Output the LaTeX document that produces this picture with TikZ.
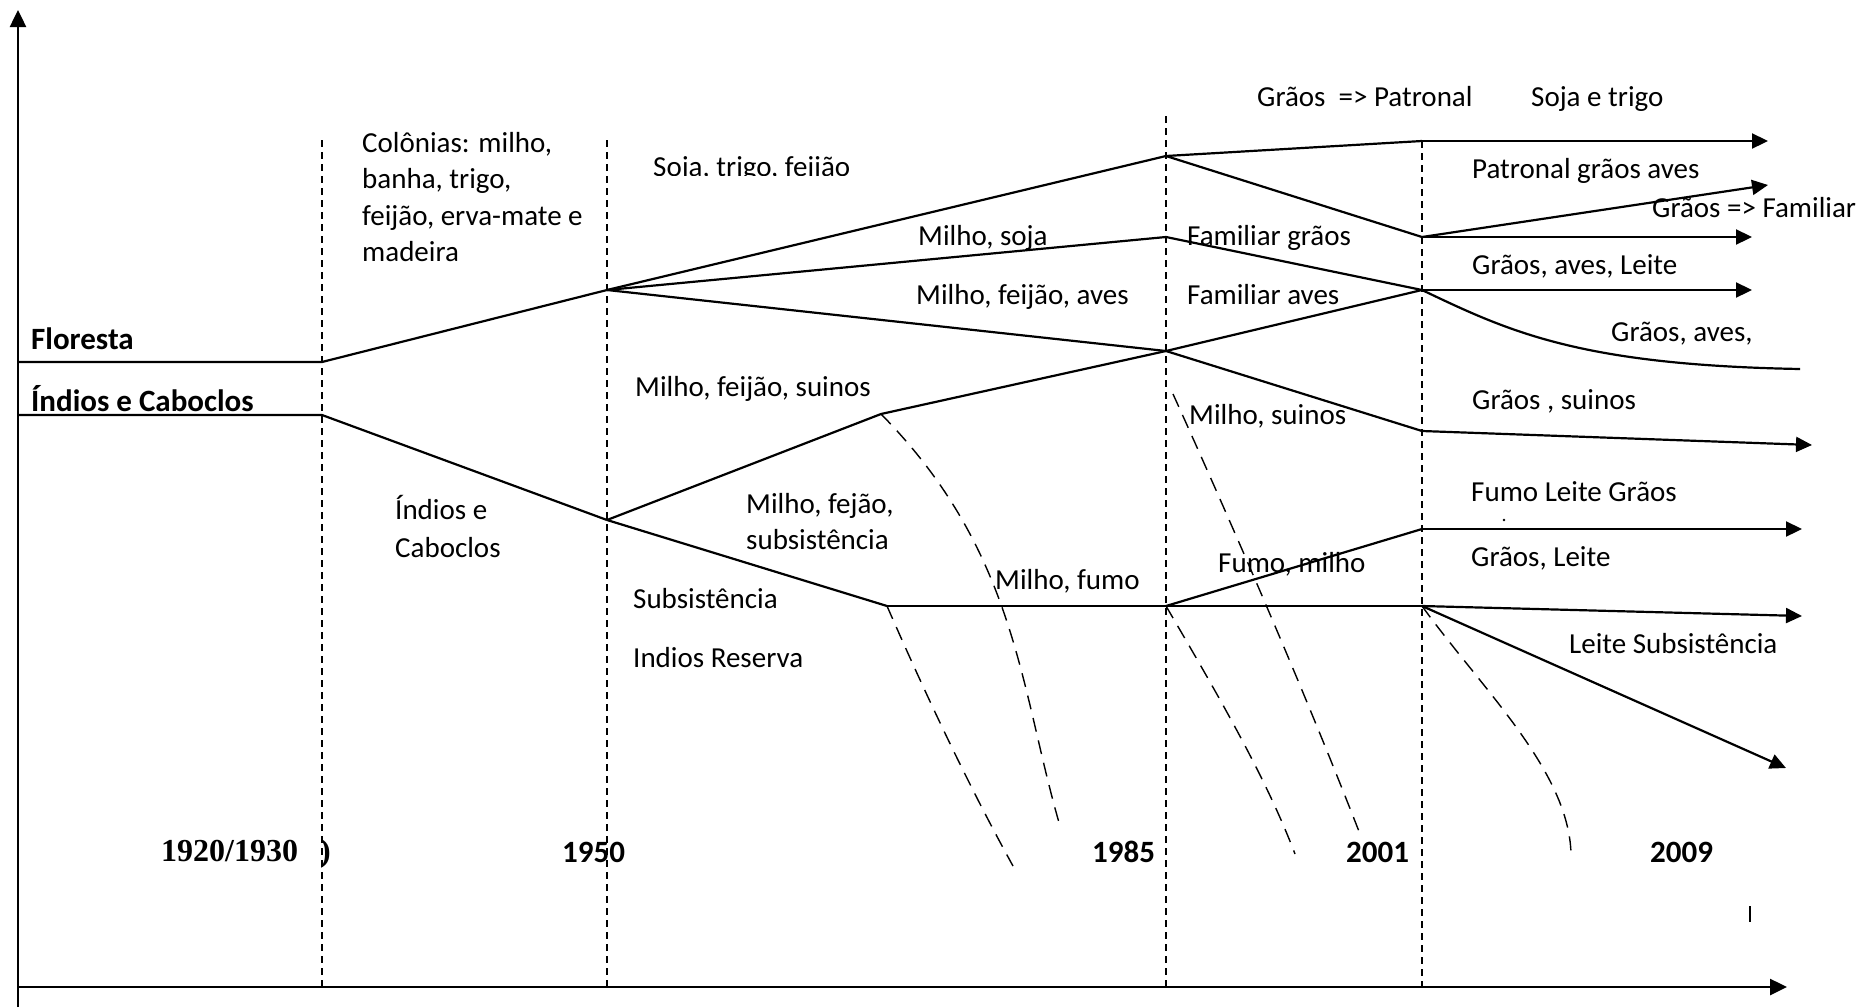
\documentclass[tikz,border=0pt]{standalone}
\usepackage{fontspec}
\setmainfont{Carlito}
\newfontfamily\timesf{Liberation Serif}
\usetikzlibrary{arrows.meta}
\begin{document}
\begin{tikzpicture}[x=1pt,y=-1pt,
  flow/.style={line width=2.2pt, line join=round},
  thinflow/.style={line width=1.3pt},
  arr/.style={flow,-{Triangle[length=16pt,width=15pt]}},
  axis/.style={line width=2.5pt,-{Triangle[length=17pt,width=16pt]}},
  vdash/.style={line width=1.4pt, dash pattern=on 7pt off 5pt},
  cdash/.style={line width=1.4pt, dash pattern=on 14pt off 9pt},
  lbl/.style={anchor=base west, inner sep=0pt, font=\fontsize{29}{35}\selectfont},
  blbl/.style={anchor=base west, inner sep=0pt, font=\fontsize{31}{37}\selectfont\bfseries},
  yr/.style={anchor=base west, inner sep=0pt, font=\fontsize{31}{37}\selectfont\bfseries},
  tyr/.style={anchor=base west, inner sep=0pt, font=\timesf\bfseries\fontsize{32}{38}\selectfont},
]
\useasboundingbox (0,0) rectangle (1866,1007);

% axes
\coordinate (YB) at (18,1007);
\coordinate (YT) at (18,10);
\coordinate (XO) at (18,987);
\coordinate (XT) at (1787,987);
\draw[axis] (YB) -- (YT);
\draw[axis] (XO) -- (XT);

% vertical dashed period lines
\coordinate (V1t) at (322,140); \coordinate (V1b) at (322,987);
\coordinate (V2t) at (607,140); \coordinate (V2b) at (607,987);
\coordinate (V3t) at (1166,116); \coordinate (V3b) at (1166,987);
\coordinate (V4t) at (1422,141); \coordinate (V4b) at (1422,987);
\draw[vdash] (V1t) -- (V1b);
\draw[vdash] (V2t) -- (V2b);
\draw[vdash] (V3t) -- (V3b);
\draw[vdash] (V4t) -- (V4b);

% flow vertices
\coordinate (F0) at (18,362); \coordinate (F1) at (322,362);
\coordinate (I0) at (18,415); \coordinate (I1) at (322,415);
\coordinate (A) at (607,290); \coordinate (B) at (607,520);
\coordinate (M1) at (881,414); \coordinate (M2) at (887,606);
\coordinate (C1) at (1166,156); \coordinate (C2) at (1166,237);
\coordinate (C3) at (1166,351); \coordinate (C4) at (1166,606);
\coordinate (D1) at (1422,141); \coordinate (D2) at (1422,237);
\coordinate (D3) at (1422,290); \coordinate (D4) at (1422,431);
\coordinate (D5) at (1422,529); \coordinate (D6) at (1422,606);
\coordinate (E1) at (1768,141); \coordinate (E2) at (1768,185);
\coordinate (E3) at (1752,237); \coordinate (E4) at (1752,290);
\coordinate (E5) at (1800,369); \coordinate (E6) at (1812,445);
\coordinate (E7) at (1802,529); \coordinate (E8) at (1802,616);
\coordinate (E9) at (1786,768);

% solid flows
\draw[flow] (F0) -- (F1) -- (A);
\draw[flow] (I0) -- (I1) -- (B);
\draw[flow] (A) -- (C1) -- (D1);
\draw[arr] (D1) -- (E1);
\draw[flow] (C1) -- (D2);
\draw[arr] (D2) -- (E2);
\draw[arr] (D2) -- (E3);
\draw[flow] (A) -- (C2) -- (D3);
\draw[arr] (D3) -- (E4);
\draw[flow] (D3) .. controls (1510,332) and (1580,365) .. (E5);
\draw[flow] (A) -- (C3) -- (D4);
\draw[arr] (D4) -- (E6);
\draw[flow] (B) -- (M1) -- (C3) -- (D3);
\draw[flow] (B) -- (M2);
\draw[thinflow] (M2) -- (C4) -- (D6);
\draw[flow] (C4) -- (D5);
\draw[arr] (D5) -- (E7);
\draw[arr] (D6) -- (E8);
\draw[arr] (D6) -- (E9);

% dashed declining branches
\coordinate (G1) at (1060,826);
\coordinate (G2) at (1013,866);
\coordinate (G3s) at (1173,394); \coordinate (G3) at (1360,834);
\coordinate (G4) at (1295,854);
\coordinate (G5) at (1571,854);
\draw[cdash] (M1) .. controls (1017,552) and (1020,689) .. (G1);
\draw[cdash] (M2) .. controls (915,670) and (960,770) .. (G2);
\draw[cdash] (G3s) .. controls (1230,520) and (1300,680) .. (G3);
\draw[cdash] (C4) .. controls (1215,690) and (1265,775) .. (G4);
\draw[cdash] (D6) .. controls (1482,689) and (1569,771) .. (G5);

% labels
\node[blbl] (floresta) at (31,349) {Floresta};
\node[blbl] (indios) at (31,411) {Índios e Caboclos};
\node[lbl] (col1) at (362,152) {Colônias: milho,};
\node[lbl] (col2) at (362,188) {banha, trigo,};
\node[lbl] (col3) at (362,225) {feijão, erva-mate e};
\node[lbl] (col4) at (362,261) {madeira};
\begin{scope}
\clip (640,140) rectangle (900,175.5);
\node[lbl] (stf) at (653,176) {Soja, trigo, feijão};
\end{scope}
\node[lbl] (ms) at (918,245) {Milho, soja};
\node[lbl] (mfa) at (916,304) {Milho, feijão, aves};
\node[lbl] (fg) at (1187,245) {Familiar grãos};
\node[lbl] (fa) at (1187,304) {Familiar aves};
\node[lbl] (mfs) at (635,396) {Milho, feijão, suinos};
\node[lbl] (msu) at (1189,424) {Milho, suinos};
\node[lbl] (gp) at (1257,106) {Grãos\ \ => Patronal};
\node[lbl] (st) at (1531,106) {Soja e trigo};
\node[lbl] (pga) at (1472,178) {Patronal grãos aves};
\node[lbl] (gf) at (1652,217) {Grãos => Familiar};
\node[lbl] (gal) at (1472,274) {Grãos, aves, Leite};
\node[lbl] (ga) at (1611,341) {Grãos, aves,};
\node[lbl] (gs) at (1472,409) {Grãos , suinos};
\node[lbl] (ie1) at (395,519) {Índios e};
\node[lbl] (ie2) at (395,557) {Caboclos};
\node[lbl] (mf1) at (746,513) {Milho, fejão,};
\node[lbl] (mf2) at (746,549) {subsistência};
\node[lbl] (sub) at (633,608) {Subsistência};
\node[lbl] (ir) at (633,667) {Indios Reserva};
\node[lbl] (mfu) at (995,589) {Milho, fumo};
\node[lbl] (fm) at (1218,572) {Fumo, milho};
\node[lbl] (flg) at (1471,501) {Fumo Leite Grãos};
\node[lbl] (gl) at (1471,566) {Grãos, Leite};
\node[lbl] (ls) at (1569,653) {Leite Subsistência};
\fill (1504,520) circle (1.3pt);

% years
\node[tyr] (y1) at (161,861) {1920/1930};
\node[tyr] (paren) at (320,861) {)};
\node[yr] (y2) at (562,862) {1950};
\node[yr] (y3) at (1092,862) {1985};
\node[yr] (y4) at (1346,862) {2001};
\node[yr] (y5) at (1650,862) {2009};
\draw[line width=1.5pt] (1750,906) -- (1750,922);
\end{tikzpicture}
\end{document}
